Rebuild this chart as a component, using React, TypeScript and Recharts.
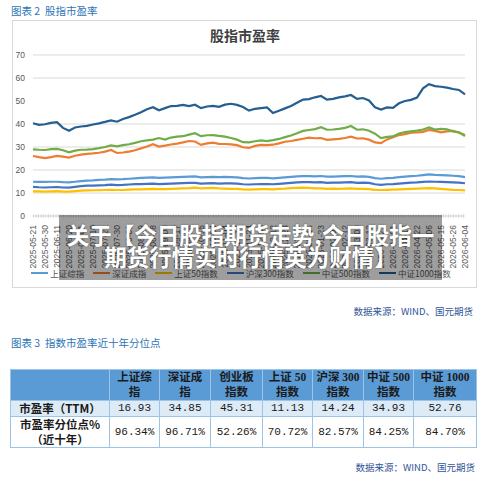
import { LineChart, Line, XAxis, YAxis, CartesianGrid, Legend } from "recharts";

// 横轴日期标签（每7个交易日一个）
const tickDates = [
  "2025-05-21", "2025-05-30", "2025-06-11", "2025-06-20", "2025-07-01", "2025-07-10",
  "2025-07-21", "2025-07-30", "2025-08-08", "2025-08-19", "2025-08-28", "2025-09-08",
  "2025-09-17", "2025-09-26", "2025-10-15", "2025-10-24", "2025-11-04", "2025-11-13",
  "2025-11-24", "2025-12-03", "2025-12-12", "2025-12-23", "2026-01-05", "2026-01-14",
  "2026-01-23", "2026-02-03", "2026-02-12", "2026-03-03", "2026-03-12", "2026-03-23",
  "2026-04-01", "2026-04-13", "2026-04-22", "2026-05-06", "2026-05-15", "2026-05-26",
  "2026-06-04",
];

const yTicks = [0, 10, 20, 30, 40, 50, 60, 70];

// 各指数市盈率（半个标签间隔取一个点）
const shComposite = [
  14.9, 14.8, 14.8, 14.9, 14.9, 14.7, 14.6, 14.9, 15.2, 15.4, 15.5, 15.7,
  15.8, 16.0, 15.9, 16.0, 16.2, 16.4, 16.6, 16.7, 16.8, 16.6, 16.7, 16.8,
  16.9, 17.0, 17.1, 17.2, 16.8, 16.9, 17.0, 16.9, 17.0, 16.9, 16.8, 16.5,
  16.3, 16.5, 16.6, 16.6, 16.4, 16.6, 16.8, 17.0, 17.2, 17.3, 17.3, 17.2,
  17.4, 17.1, 17.1, 17.2, 17.3, 17.4, 17.1, 17.2, 17.0, 16.5, 16.2, 16.5,
  16.6, 16.9, 17.1, 17.3, 17.5, 17.8, 18.1, 17.9, 17.8, 17.7, 17.5, 17.3, 16.93,
];
const szComponent = [
  26.1, 25.6, 25.2, 25.6, 26.1, 25.8, 25.4, 26.2, 26.7, 27.0, 27.2, 27.5,
  28.0, 28.7, 27.4, 27.6, 28.0, 28.6, 29.4, 30.2, 31.2, 30.2, 30.6, 31.1,
  31.5, 32.0, 32.6, 32.4, 30.9, 31.6, 31.9, 31.4, 31.3, 31.1, 30.8, 29.9,
  29.6, 30.5, 30.9, 30.8, 31.0, 31.6, 32.3, 32.6, 33.1, 33.6, 34.1, 33.8,
  33.9, 33.1, 33.3, 33.5, 33.9, 34.5, 33.7, 33.8, 33.2, 32.0, 31.7, 33.3,
  34.2, 35.2, 35.6, 36.2, 36.3, 36.6, 37.4, 37.0, 36.4, 36.8, 37.0, 36.2, 35.2,
];
const sz50 = [
  10.7, 10.7, 10.6, 10.7, 10.8, 10.6, 10.6, 10.8, 11.0, 11.1, 11.2, 11.2,
  11.3, 11.4, 11.3, 11.3, 11.5, 11.6, 11.6, 11.7, 11.8, 11.7, 11.7, 11.8,
  11.9, 12.0, 12.1, 12.3, 12.0, 12.1, 12.2, 12.0, 11.9, 11.8, 11.8, 11.6,
  11.5, 11.6, 11.7, 11.7, 11.6, 11.8, 11.9, 12.1, 12.2, 12.3, 12.2, 12.0,
  12.0, 11.8, 11.9, 11.8, 11.9, 12.0, 11.8, 11.8, 11.7, 11.4, 11.3, 11.4,
  11.5, 11.6, 11.7, 11.8, 11.9, 12.0, 12.1, 12.0, 11.8, 11.6, 11.4, 11.3, 11.13,
];
const hs300 = [
  12.7, 12.5, 12.4, 12.5, 12.6, 12.4, 12.3, 12.7, 13.0, 13.2, 13.2, 13.3,
  13.4, 13.6, 13.4, 13.5, 13.7, 13.9, 13.9, 14.0, 14.1, 13.9, 14.0, 14.1,
  14.2, 14.3, 14.4, 14.4, 14.1, 14.2, 14.3, 14.1, 14.2, 14.2, 14.1, 13.8,
  13.7, 13.8, 13.9, 13.9, 13.8, 14.0, 14.2, 14.4, 14.6, 14.7, 14.7, 14.6,
  14.7, 14.4, 14.5, 14.5, 14.6, 14.7, 14.4, 14.5, 14.4, 13.8, 13.5, 13.8,
  13.9, 14.1, 14.3, 14.5, 14.6, 14.8, 15.0, 14.9, 14.8, 14.7, 14.6, 14.5, 14.24,
];
const zz500 = [
  29.0, 28.8, 28.7, 29.1, 29.2, 28.6, 27.7, 28.4, 28.8, 28.9, 29.1, 29.5,
  30.0, 30.7, 30.3, 30.8, 31.2, 31.8, 32.5, 32.9, 33.2, 33.9, 33.2, 34.1,
  34.5, 34.7, 35.4, 36.0, 34.7, 35.1, 35.2, 34.8, 34.5, 33.9, 33.2, 32.1,
  32.0, 32.5, 32.9, 32.6, 33.0, 33.5, 34.3, 35.0, 36.0, 37.0, 37.4, 37.8,
  38.6, 37.5, 37.6, 37.9, 38.3, 39.1, 37.5, 37.7, 37.1, 35.8, 33.9, 34.4,
  34.6, 35.9, 36.5, 36.8, 37.1, 37.6, 38.5, 37.6, 37.9, 37.7, 36.8, 36.4, 34.8,
];
const zz1000 = [
  40.3, 39.6, 39.9, 40.5, 40.8, 38.3, 37.1, 38.5, 38.9, 39.2, 39.8, 40.3,
  40.9, 41.6, 41.0, 42.2, 43.0, 44.0, 45.1, 46.4, 47.3, 46.0, 46.9, 47.8,
  47.9, 48.3, 47.8, 48.4, 46.9, 47.6, 47.9, 47.5, 48.4, 48.8, 48.3, 47.4,
  45.8, 46.6, 46.9, 47.2, 44.8, 45.8, 46.8, 47.8, 49.2, 50.6, 50.8, 51.6,
  52.2, 50.6, 50.9, 51.6, 52.0, 52.6, 50.9, 51.3, 50.2, 47.3, 46.3, 47.2,
  47.0, 49.0, 50.0, 50.5, 51.5, 55.5, 57.3, 56.5, 56.2, 55.8, 55.2, 54.8, 52.9,
];

const seriesKeys = ["sh", "sz", "sz50", "hs300", "zz500", "zz1000"];
const seriesNames = ["上证综指", "深证成指", "上证50指数", "沪深300指数", "中证500指数", "中证1000指数"];
const seriesColors = ["#5B9BD5", "#ED7D31", "#FFC000", "#4472C4", "#70AD47", "#255E91"];

// 分位点表
const tableHeaders = [
  ["上证综", "指"], ["深证成", "指"], ["创业板", "指数"], ["上证 50", "指数"],
  ["沪深 300", "指数"], ["中证 500", "指数"], ["中证 1000", "指数"],
];
const peTtm = [16.93, 34.85, 45.31, 11.13, 14.24, 34.93, 52.76];
const pePercentile = [96.34, 96.71, 52.26, 70.72, 82.57, 84.25, 84.7];
const colWidths = [99, 50, 51, 52, 50, 51, 50, 63];

const chartData = shComposite.map((v, i) => ({
  idx: i,
  sh: v,
  sz: szComponent[i],
  sz50: sz50[i],
  hs300: hs300[i],
  zz500: zz500[i],
  zz1000: zz1000[i],
}));
const xTicks = tickDates.map((_, i) => i * 2);

const cjk = '"Noto Sans CJK SC", "Liberation Sans", sans-serif';
const latin = '"Liberation Sans", Arial, sans-serif';

function DateTick(props: any) {
  const { x, y, payload } = props;
  return (
    <text
      x={x}
      y={y}
      dy="0.35em"
      textAnchor="end"
      transform={`rotate(-90, ${x}, ${y})`}
      fontSize={8.5}
      fontFamily={latin}
      fill="#595959"
    >
      {tickDates[payload.value / 2]}
    </text>
  );
}

function LegendRow() {
  return (
    <div
      style={{
        display: "flex",
        justifyContent: "center",
        alignItems: "center",
        gap: 9,
        height: 18,
        fontSize: 8.5,
        fontFamily: cjk,
        color: "#595959",
      }}
    >
      {seriesNames.map((n, i) => (
        <div key={n} style={{ display: "flex", alignItems: "center" }}>
          <span
            style={{
              display: "inline-block",
              width: 17,
              height: 2.5,
              background: seriesColors[i],
              marginRight: 2,
            }}
          />
          <span>{n}</span>
        </div>
      ))}
    </div>
  );
}

const cellBorder = "1px solid #9DC3E6";

export default function App() {
  return (
    <div
      style={{
        position: "absolute",
        left: 0,
        top: 0,
        width: 500,
        height: 496,
        background: "#fff",
        overflow: "hidden",
        fontFamily: cjk,
      }}
    >
      <div style={{ position: "absolute", left: 11, top: 4, fontSize: 10.5, color: "#2E75B6", lineHeight: "14px" }}>
        图表 2&nbsp;&nbsp;股指市盈率
      </div>

      <div
        style={{
          position: "absolute",
          left: 12,
          top: 20,
          width: 465,
          height: 268,
          boxSizing: "border-box",
          border: "1px solid #D9D9D9",
        }}
      />
      <div
        style={{
          position: "absolute",
          left: 145,
          top: 26,
          width: 200,
          textAlign: "center",
          fontSize: 14,
          fontWeight: 700,
          color: "#404040",
          lineHeight: "18px",
        }}
      >
        股指市盈率
      </div>

      <div style={{ position: "absolute", left: 12, top: 20 }}>
        <LineChart width={465} height={268} data={chartData} margin={{ top: 35, right: 12, left: 5, bottom: 6 }}>
          <CartesianGrid vertical={false} stroke="#D9D9D9" />
          <XAxis
            dataKey="idx"
            type="number"
            domain={[0, 72]}
            ticks={xTicks}
            interval={0}
            height={48}
            tickLine={false}
            tickMargin={3}
            tick={<DateTick />}
            axisLine={{ stroke: "#D0D0D0", strokeWidth: 3, strokeDasharray: "1 1.5" }}
          />
          <YAxis
            domain={[0, 70]}
            ticks={yTicks}
            width={16}
            tickLine={false}
            axisLine={false}
            tick={{ fontSize: 8.5, fill: "#595959", fontFamily: latin }}
          />
          <Legend verticalAlign="bottom" height={18} wrapperStyle={{ height: 18 }} content={() => <LegendRow />} />
          {seriesKeys.map((k, i) => (
            <Line
              key={k}
              dataKey={k}
              name={seriesNames[i]}
              type="linear"
              stroke={seriesColors[i]}
              strokeWidth={2.2}
              dot={false}
              isAnimationActive={false}
            />
          ))}
        </LineChart>
      </div>

      {/* 标题遮罩 */}
      <div
        style={{
          position: "absolute",
          left: 59,
          top: 215,
          width: 383,
          height: 65,
          background: "rgba(0,0,0,0.38)",
          color: "#fff",
          fontWeight: 700,
          fontSize: 22.5,
          lineHeight: "22px",
          textAlign: "center",
          paddingTop: 8,
          boxSizing: "border-box",
          textShadow: "0 0 2px rgba(0,0,0,0.45)",
          whiteSpace: "nowrap",
        }}
      >
        <div>关于【今日股指期货走势,今日股指一</div>
        <div>期货行情实时行情英为财情】</div>
      </div>

      <div style={{ position: "absolute", right: 27, top: 304, fontSize: 9.5, color: "#2F5597", lineHeight: "14px" }}>
        数据来源：WIND、国元期货
      </div>

      <div style={{ position: "absolute", left: 11, top: 336, fontSize: 10.5, color: "#2E75B6", lineHeight: "14px" }}>
        图表 3&nbsp;&nbsp;指数市盈率近十年分位点
      </div>

      <table
        style={{
          position: "absolute",
          left: 10,
          top: 369,
          width: 466,
          borderCollapse: "collapse",
          tableLayout: "fixed",
          fontSize: 11.5,
          color: "#1a1a1a",
        }}
      >
        <colgroup>
          {colWidths.map((w, i) => (
            <col key={i} style={{ width: w }} />
          ))}
        </colgroup>
        <tbody>
          <tr style={{ height: 30, background: "#5B9BD5" }}>
            <td style={{ border: cellBorder }} />
            {tableHeaders.map((h, i) => (
              <td
                key={i}
                style={{
                  border: cellBorder,
                  textAlign: "center",
                  fontWeight: 700,
                  lineHeight: "15px",
                  padding: 0,
                  fontFamily: '"Liberation Serif", "Noto Sans CJK SC", serif',
                }}
              >
                {h[0]}
                <br />
                {h[1]}
              </td>
            ))}
          </tr>
          <tr style={{ height: 16, background: "#DDEBF7" }}>
            <td style={{ border: cellBorder, textAlign: "center", fontWeight: 700, padding: 0, lineHeight: "15px" }}>
              市盈率（TTM）
            </td>
            {peTtm.map((v, i) => (
              <td
                key={i}
                style={{
                  border: cellBorder,
                  textAlign: "center",
                  padding: 0,
                  fontFamily: '"Liberation Mono", monospace',
                  fontSize: 11,
                  lineHeight: "15px",
                }}
              >
                {v.toFixed(2)}
              </td>
            ))}
          </tr>
          <tr style={{ height: 30, background: "#fff" }}>
            <td style={{ border: cellBorder, textAlign: "center", fontWeight: 700, padding: 0, lineHeight: "15px" }}>
              市盈率分位点%
              <br />
              （近十年）
            </td>
            {pePercentile.map((v, i) => (
              <td
                key={i}
                style={{
                  border: cellBorder,
                  textAlign: "center",
                  padding: 0,
                  fontFamily: '"Liberation Mono", monospace',
                  fontSize: 11,
                }}
              >
                {v.toFixed(2)}%
              </td>
            ))}
          </tr>
        </tbody>
      </table>

      <div style={{ position: "absolute", right: 25, top: 460, fontSize: 9.5, color: "#2F5597", lineHeight: "14px" }}>
        数据来源：WIND、国元期货
      </div>
    </div>
  );
}
